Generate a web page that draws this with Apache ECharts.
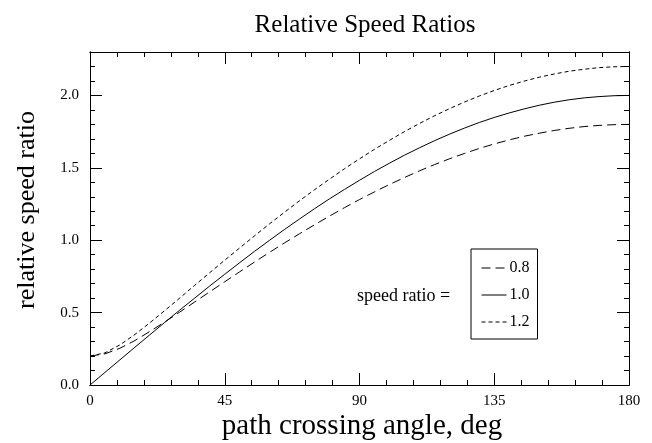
<!DOCTYPE html>
<html>
<head>
<meta charset="utf-8">
<script src="https://cdn.jsdelivr.net/npm/echarts@6/dist/echarts.min.js"></script>
<style>html,body{margin:0;padding:0;background:#fff;}#c{width:652px;height:443px;}</style>
</head>
<body>
<div id="c"></div>
<script>
// angle (deg)
const angles = [0,5,10,15,20,25,30,35,40,45,50,55,60,65,70,75,80,85,90,95,100,105,110,115,120,125,130,135,140,145,150,155,160,165,170,175,180];
const ratio08 = [0.200,0.215,0.254,0.307,0.370,0.436,0.504,0.574,0.644,0.713,0.782,0.850,0.917,0.982,1.045,1.107,1.167,1.225,1.281,1.334,1.385,1.433,1.479,1.522,1.562,1.599,1.634,1.665,1.693,1.718,1.739,1.758,1.773,1.785,1.793,1.798,1.800];
const ratio10 = [0.000,0.087,0.174,0.261,0.347,0.433,0.518,0.601,0.684,0.765,0.845,0.924,1.000,1.075,1.147,1.218,1.286,1.351,1.414,1.475,1.532,1.587,1.638,1.687,1.732,1.774,1.813,1.848,1.879,1.907,1.932,1.953,1.970,1.983,1.992,1.998,2.000];
const ratio12 = [0.200,0.222,0.277,0.349,0.430,0.515,0.601,0.689,0.776,0.862,0.947,1.031,1.114,1.194,1.273,1.349,1.422,1.494,1.562,1.628,1.690,1.750,1.806,1.859,1.908,1.954,1.996,2.034,2.069,2.099,2.126,2.148,2.167,2.181,2.192,2.198,2.200];
const seriesNames = ['0.8','1.0','1.2'];
const xTicks = [0,45,90,135,180];
const yTicks = [0.0,0.5,1.0,1.5,2.0];

const FONT = '"Liberation Serif", "DejaVu Serif", serif';
const chart = echarts.init(document.getElementById('c'));
const pair = a => angles.map((x,i)=>[x,a[i]]);
const axLine = {show:true, onZero:false, lineStyle:{color:'#000', width:1}};
function xAx(pos, minor, labels){
  return {type:'value', position:pos, min:0, max:180, interval: minor?9:45,
    axisLine: axLine,
    axisTick:{show:true, inside:true, length: minor?5:12, lineStyle:{color:'#000'}},
    axisLabel:{show:labels, color:'#000', fontFamily:FONT, fontSize:15, margin:9},
    splitLine:{show:false}};
}
function yAx(pos, minor, labels){
  return {type:'value', position:pos, min:0, max:2.3, interval: minor?0.1:0.5,
    axisLine: axLine,
    axisTick:{show:true, inside:true, length: minor?5:12, lineStyle:{color:'#000'}},
    axisLabel:{show:labels, showMaxLabel:false, color:'#000', fontFamily:FONT, fontSize:15, margin:11,
      formatter: v => yTicks.indexOf(Math.round(v*10)/10) >= 0 ? v.toFixed(1) : ''},
    splitLine:{show:false}};
}
const xa = [xAx('bottom',false,true), xAx('bottom',true,false), xAx('top',false,false), xAx('top',true,false)];
xa[0].axisLabel.formatter = v => xTicks.indexOf(v)>=0 ? String(v) : '';
const ya = [yAx('left',false,true), yAx('left',true,false), yAx('right',false,false), yAx('right',true,false)];

const styles = [[9,5],'solid',[4,3]];
const datas = [ratio08, ratio10, ratio12];
chart.setOption({
  animation:false,
  backgroundColor:'#fff',
  title:{text:'Relative Speed Ratios', left:360, textAlign:'center', top:8,
    textStyle:{color:'#000', fontFamily:FONT, fontSize:25, fontWeight:'normal'}},
  grid:{left:90, right:23, top:52, bottom:58, containLabel:false, outerBoundsMode:'none'},
  xAxis: xa,
  yAxis: ya,
  legend:{show:true, orient:'vertical', left:471, top:249, data:seriesNames,
    itemWidth:25, itemHeight:14, itemGap:11,
    padding:[11,8,9,10], borderColor:'#000', borderWidth:1,
    itemStyle:{opacity:0},
    lineStyle:{width:1},
    textStyle:{color:'#000', fontFamily:FONT, fontSize:16, padding:[0,0,0,-2]}},
  graphic:[
    {type:'text', x:357, y:296, style:{text:'speed ratio =', fill:'#000', font:'18px '+FONT, verticalAlign:'middle'}},
    {type:'text', x:27, y:210, rotation:Math.PI/2, style:{text:'relative speed ratio', fill:'#000', font:'26px '+FONT, align:'center', verticalAlign:'middle'}},
    {type:'text', x:362, y:426, style:{text:'path crossing angle, deg', fill:'#000', font:'29px '+FONT, align:'center', verticalAlign:'middle'}}
  ],
  series: seriesNames.map((n,i)=>({
    name:n, type:'line', data:pair(datas[i]), xAxisIndex:0, yAxisIndex:0,
    symbol:'none', smooth:false, color:'#000',
    lineStyle:{color:'#000', width:1, type:styles[i]}
  }))
});
</script>
</body>
</html>
